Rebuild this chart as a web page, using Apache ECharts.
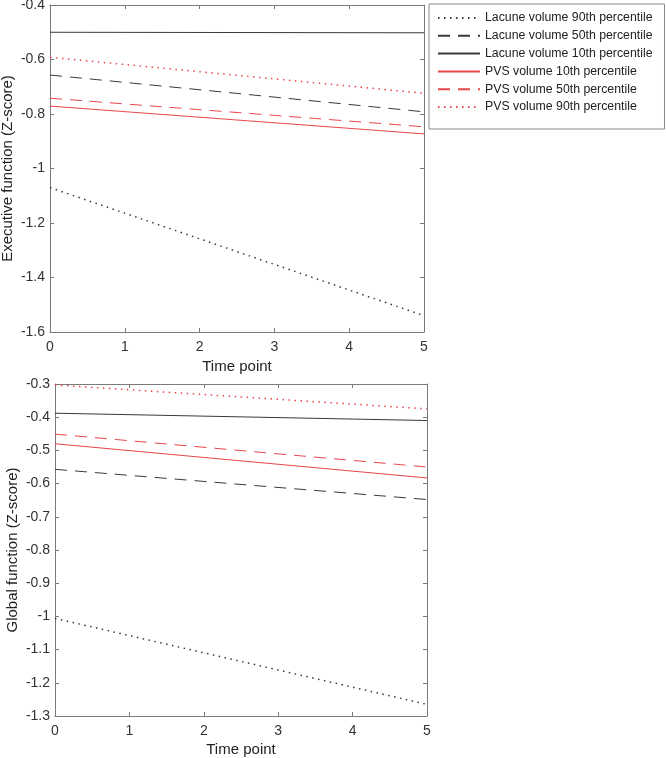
<!DOCTYPE html>
<html>
<head>
<meta charset="utf-8">
<script src="https://cdn.jsdelivr.net/npm/echarts@6/dist/echarts.min.js"></script>
<style>
html,body{margin:0;padding:0;background:#fff;}
#chart{width:666px;height:758px;}
</style>
</head>
<body>
<div id="chart"></div>
<script>
// ---- data ----
var timePoints = [0, 5];
var seriesNames = [
  'Lacune volume 90th percentile',
  'Lacune volume 50th percentile',
  'Lacune volume 10th percentile',
  'PVS volume 10th percentile',
  'PVS volume 50th percentile',
  'PVS volume 90th percentile'
];
// Executive function (top panel), values at time 0 and time 5
var execLacune90 = [-1.07, -1.54];
var execLacune50 = [-0.657, -0.792];
var execLacune10 = [-0.500, -0.502];
var execPvs10 = [-0.771, -0.873];
var execPvs50 = [-0.742, -0.847];
var execPvs90 = [-0.592, -0.724];
// Global function (bottom panel)
var globLacune90 = [-1.006, -1.265];
var globLacune50 = [-0.557, -0.648];
var globLacune10 = [-0.388, -0.41];
var globPvs10 = [-0.48, -0.583];
var globPvs50 = [-0.451, -0.550];
var globPvs90 = [-0.303, -0.375];

var DARK = '#3a3a3a';
var RED = '#e8474a';
var styles = [
  {color: DARK, type: [1.5, 4.5], width: 1.5},
  {color: DARK, type: [12, 8], width: 1},
  {color: DARK, type: 'solid', width: 1},
  {color: RED, type: 'solid', width: 1},
  {color: RED, type: [12, 8], width: 1},
  {color: RED, type: [1.5, 4.5], width: 1.5}
];
var execData = [execLacune90, execLacune50, execLacune10, execPvs10, execPvs50, execPvs90];
var globData = [globLacune90, globLacune50, globLacune10, globPvs10, globPvs50, globPvs90];

function pairs(vals) {
  return timePoints.map(function (t, i) { return [t, vals[i]]; });
}

var FONT = 'Liberation Sans, Arial, sans-serif';
var AXC = '#7a7a7a';

function xAx(grid, pos, showLabel, name, nameGap) {
  return {
    type: 'value', gridIndex: grid, position: pos, min: 0, max: 5, interval: 1,
    axisLine: {show: true, onZero: false, lineStyle: {color: AXC, width: 1}},
    axisTick: {show: true, inside: true, length: 4, lineStyle: {color: AXC}},
    axisLabel: {show: showLabel, color: '#333', fontSize: 14, fontFamily: FONT, margin: 8},
    splitLine: {show: false},
    name: name || '', nameLocation: 'middle', nameGap: nameGap || 0, nameMoveOverlap: false,
    nameTextStyle: {color: '#222', fontSize: 15, fontFamily: FONT}
  };
}
function yAx(grid, pos, showLabel, min, max, interval, name, nameGap) {
  return {
    type: 'value', gridIndex: grid, position: pos, min: min, max: max, interval: interval,
    axisLine: {show: true, onZero: false, lineStyle: {color: AXC, width: 1}},
    axisTick: {show: true, inside: true, length: 4, lineStyle: {color: AXC}},
    axisLabel: {show: showLabel, color: '#333', fontSize: 14, fontFamily: FONT, margin: 5,
      formatter: function (v) { return String(Math.round(v * 10) / 10); }},
    splitLine: {show: false},
    name: name || '', nameLocation: 'middle', nameGap: nameGap || 0, nameRotate: 90,
    nameMoveOverlap: false,
    nameTextStyle: {color: '#222', fontSize: 15, fontFamily: FONT}
  };
}

var series = [];
execData.forEach(function (d, i) {
  series.push({type: 'line', name: seriesNames[i], xAxisIndex: 0, yAxisIndex: 0,
    data: pairs(d), symbol: 'none', silent: true, lineStyle: styles[i], itemStyle: {color: styles[i].color}});
});
globData.forEach(function (d, i) {
  series.push({type: 'line', name: seriesNames[i], xAxisIndex: 2, yAxisIndex: 2,
    data: pairs(d), symbol: 'none', silent: true, lineStyle: styles[i], itemStyle: {color: styles[i].color}});
});

var option = {
  backgroundColor: '#fff',
  animation: false,
  grid: [
    {left: 50, top: 5, width: 374, height: 327, containLabel: false, outerBoundsMode: 'none'},
    {left: 55, top: 384, width: 372, height: 332, containLabel: false, outerBoundsMode: 'none'}
  ],
  xAxis: [
    xAx(0, 'bottom', true, 'Time point', 27),
    xAx(0, 'top', false),
    xAx(1, 'bottom', true, 'Time point', 26),
    xAx(1, 'top', false)
  ],
  yAxis: [
    yAx(0, 'left', true, -1.6, -0.4, 0.2, 'Executive function (Z-score)', 35),
    yAx(0, 'right', false, -1.6, -0.4, 0.2),
    yAx(1, 'left', true, -1.3, -0.3, 0.1, 'Global function (Z-score)', 35),
    yAx(1, 'right', false, -1.3, -0.3, 0.1)
  ],
  legend: {
    orient: 'vertical', left: 429, top: 4,
    data: seriesNames,
    itemWidth: 42, itemHeight: 14, itemGap: 5.8,
    padding: [8, 12, 16, 8],
    borderColor: '#8a8a8a', borderWidth: 1,
    backgroundColor: '#fff',
    selectedMode: false,
    itemStyle: {opacity: 0},
    textStyle: {color: '#222', fontSize: 12.3, fontFamily: FONT, padding: [0, 0, 0, 0]}
  },
  series: series
};

var chart = echarts.init(document.getElementById('chart'), null, {renderer: 'canvas'});
chart.setOption(option);
</script>
</body>
</html>
